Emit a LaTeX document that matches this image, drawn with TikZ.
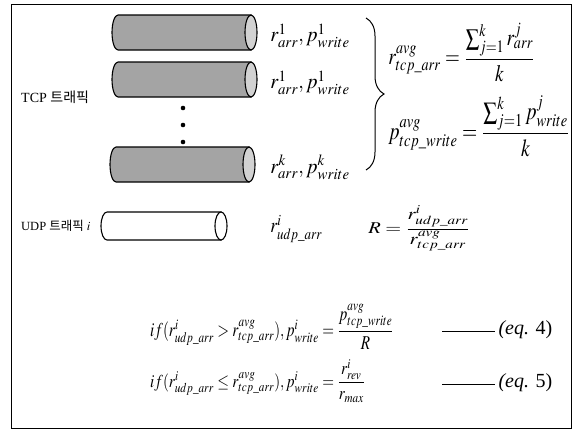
\documentclass[tikz,border=0pt]{standalone}
\usepackage{amsmath}
\usepackage{mathptmx}
\usepackage{fontspec}
\setmainfont{Liberation Serif}
\newfontfamily\hangul{Noto Sans CJK KR}
\usetikzlibrary{decorations.pathreplacing,positioning}
\definecolor{pipeBody}{HTML}{A4A4A4}
\definecolor{pipeCap}{HTML}{D2D2D2}

\begin{document}
\begin{tikzpicture}[x=1pt,y=-1pt,
    lbl/.style={font=\fontsize{14}{16}\selectfont,anchor=west,inner sep=0pt},
    eqn/.style={font=\fontsize{14}{16}\selectfont,inner sep=0pt},
    tag/.style={font=\fontsize{20}{22}\selectfont,anchor=west,inner sep=0pt}]
    \useasboundingbox (0,0) rectangle (573,429);
    \draw[line width=1pt] (11,4) rectangle (571,428);
    \foreach \xa/\xb/\yc/\ry/\body/\cap in
      {118/251/32.5/17.5/pipeBody/pipeCap,118/251/79.5/17.5/pipeBody/pipeCap,
       116/249/164.5/17.5/pipeBody/pipeCap,107/221/226/14/white/white}
    {
      \draw[line width=1.1pt,fill=\body] (\xa,\yc+\ry)
        arc[start angle=90,end angle=270,x radius=6,y radius=\ry]
        -- (\xb,\yc-\ry) -- (\xb,\yc+\ry) -- cycle;
      \draw[line width=1.1pt,fill=\cap] (\xb,\yc) ellipse[x radius=6,y radius=\ry];
    }
    \foreach \y in {108,125,142}
      \fill (183,\y) circle (2.3pt);
    \node[lbl] (tcplbl) at (21,97) {TCP {\hangul 트래픽}};
    \node[lbl,font=\fontsize{12.5}{14}\selectfont] (udplbl) at (21,226) {UDP {\hangul 트래픽} $i$};
    \node[eqn,anchor=west,xscale=1.43,yscale=1.5] (rate1) at (270,36) {$r^{1}_{arr}, p^{1}_{write}$};
    \node[eqn,anchor=west,xscale=1.43,yscale=1.5] (rate2) at (270,83) {$r^{1}_{arr}, p^{1}_{write}$};
    \node[eqn,anchor=west,xscale=1.43,yscale=1.5] (ratek) at (270,167) {$r^{k}_{arr}, p^{k}_{write}$};
    \node[eqn,anchor=west,xscale=1.25,yscale=1.5] (rateu) at (270,229) {$r^{i}_{udp\_arr}$};
    \draw[line width=1pt,decorate,decoration={brace,amplitude=18pt}]
      (366,18) -- (366,170);
    \node[eqn,anchor=west,xscale=1.36,yscale=1.68] (avgr) at (388,52)
      {$r^{avg}_{tcp\_arr}=\dfrac{\sum_{j=1}^{k} r^{j}_{arr}}{k}$};
    \node[eqn,anchor=west,xscale=1.4,yscale=1.75] (avgp) at (388,126)
      {$p^{avg}_{tcp\_write}=\dfrac{\sum_{j=1}^{k} p^{j}_{write}}{k}$};
    \node[eqn,anchor=west,xscale=1.46,yscale=1.18] (ratio) at (368,228)
      {$R=\dfrac{r^{i}_{udp\_arr}}{r^{avg}_{tcp\_arr}}$};
    \node[eqn,anchor=west,xscale=1.08,yscale=1.4] (eq4) at (150,327)
      {$if(r^{i}_{udp\_arr}>r^{avg}_{tcp\_arr}), p^{i}_{write}=\dfrac{p^{avg}_{tcp\_write}}{R}$};
    \node[eqn,anchor=west,xscale=1.08,yscale=1.3] (eq5) at (150,381)
      {$if(r^{i}_{udp\_arr}\le r^{avg}_{tcp\_arr}), p^{i}_{write}=\dfrac{r^{i}_{rev}}{r_{max}}$};
    \node[tag] (tag4) at (442,330)
      {\rule[0.3ex]{53pt}{0.8pt}\,\textit{(eq.} 4)};
    \node[tag] (tag5) at (442,383)
      {\rule[0.3ex]{53pt}{0.8pt}\,\textit{(eq.} 5)};
  \end{tikzpicture}
\end{document}
